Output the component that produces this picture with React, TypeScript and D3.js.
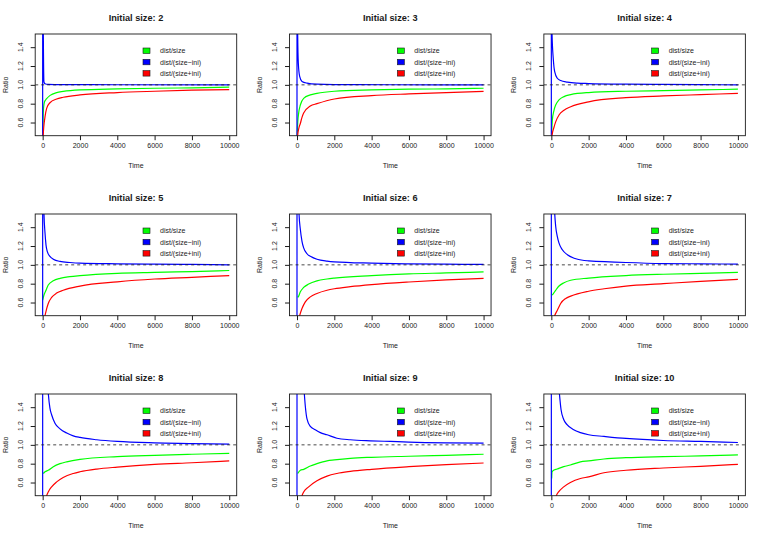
import { useEffect, useRef } from 'react';
import * as d3 from 'd3';

type Pt = [number, number];

// Initial sizes shown, one panel each
const initialSizes = [2, 3, 4, 5, 6, 7, 8, 9, 10];

const legendLabels = ['dist/size', 'dist/(size\u2212ini)', 'dist/(size+ini)'];
const seriesColors = ['#00ff00', '#0000ff', '#ff0000'];

const xTicks = [0, 2000, 4000, 6000, 8000, 10000];
const yTicks = [0.6, 0.8, 1.0, 1.2, 1.4];

// [time, ratio]
const green2: Pt[] = [[0, 0.3], [20, 0.6], [50, 0.76], [100, 0.82], [200, 0.85], [400, 0.888], [750, 0.918], [1100, 0.93], [2000, 0.946], [4000, 0.957], [6000, 0.964], [8000, 0.968], [10000, 0.975]];
const blue2: Pt[] = [[0, 0.3], [1, 3], [35, 1.55], [70, 1.03], [125, 1.012], [300, 1.005], [1000, 1.002], [4000, 1.001], [10000, 1.0]];
const red2: Pt[] = [[10, 0.3], [30, 0.46], [125, 0.66], [214, 0.75], [390, 0.81], [750, 0.85], [1100, 0.868], [2000, 0.893], [4000, 0.918], [6000, 0.932], [8000, 0.943], [10000, 0.95]];

const green3: Pt[] = [[0, 0.4], [40, 0.6], [89, 0.7], [179, 0.786], [357, 0.857], [714, 0.893], [1071, 0.91], [2000, 0.932], [4000, 0.946], [6000, 0.954], [8000, 0.957], [10000, 0.964]];
const blue3: Pt[] = [[0, 0.3], [1, 3], [36, 1.55], [71, 1.23], [143, 1.09], [268, 1.036], [536, 1.018], [1071, 1.007], [2000, 1.003], [5000, 1.001], [10000, 1.0]];
const red3: Pt[] = [[20, 0.4], [36, 0.46], [100, 0.54], [179, 0.59], [268, 0.655], [357, 0.7], [714, 0.775], [1071, 0.8], [2000, 0.85], [4000, 0.886], [6000, 0.904], [8000, 0.918], [10000, 0.93]];

const green4: Pt[] = [[0, 0.4], [54, 0.625], [143, 0.73], [233, 0.786], [412, 0.84], [680, 0.875], [1040, 0.896], [2000, 0.918], [4000, 0.932], [6000, 0.939], [8000, 0.946], [10000, 0.954]];
const blue4: Pt[] = [[0, 0.3], [1, 3], [36, 1.55], [107, 1.27], [180, 1.14], [322, 1.07], [500, 1.046], [860, 1.029], [1400, 1.018], [2000, 1.014], [4000, 1.007], [6000, 1.004], [8000, 1.002], [10000, 1.0]];
const red4: Pt[] = [[20, 0.4], [36, 0.46], [143, 0.55], [233, 0.607], [412, 0.68], [680, 0.73], [1040, 0.768], [2000, 0.82], [4000, 0.864], [6000, 0.882], [8000, 0.896], [10000, 0.91]];

const green5: Pt[] = [[0, 0.625], [70, 0.68], [180, 0.73], [300, 0.786], [570, 0.83], [930, 0.857], [1460, 0.875], [2000, 0.886], [4000, 0.91], [6000, 0.92], [8000, 0.929], [10000, 0.94]];
const blue5: Pt[] = [[0, 0.3], [1, 3], [70, 1.55], [125, 1.34], [180, 1.21], [250, 1.14], [390, 1.09], [570, 1.06], [930, 1.036], [1460, 1.025], [2000, 1.018], [4000, 1.011], [6000, 1.007], [8000, 1.004], [10000, 1.0]];
const red5: Pt[] = [[100, 0.44], [125, 0.46], [215, 0.536], [300, 0.59], [480, 0.654], [750, 0.7], [1100, 0.73], [2000, 0.775], [4000, 0.82], [6000, 0.85], [8000, 0.868], [10000, 0.886]];

const green6: Pt[] = [[36, 0.654], [89, 0.668], [180, 0.714], [357, 0.76], [625, 0.796], [1070, 0.83], [1610, 0.85], [2000, 0.86], [4000, 0.886], [6000, 0.904], [8000, 0.914], [10000, 0.925]];
const blue6: Pt[] = [[0, 0.3], [1, 3], [107, 1.55], [180, 1.375], [268, 1.25], [357, 1.18], [536, 1.118], [800, 1.082], [1070, 1.06], [1610, 1.04], [2000, 1.032], [4000, 1.018], [6000, 1.011], [8000, 1.007], [10000, 1.004]];
const red6: Pt[] = [[120, 0.44], [143, 0.46], [268, 0.536], [446, 0.607], [714, 0.66], [1070, 0.696], [1610, 0.73], [2000, 0.746], [2860, 0.768], [4000, 0.79], [6000, 0.818], [8000, 0.84], [10000, 0.857]];

const green7: Pt[] = [[36, 0.68], [90, 0.69], [233, 0.73], [412, 0.775], [680, 0.81], [1040, 0.836], [2000, 0.86], [4000, 0.886], [6000, 0.9], [8000, 0.91], [10000, 0.92]];
const blue7: Pt[] = [[0, 0.3], [1, 3], [180, 1.55], [233, 1.41], [322, 1.3], [412, 1.23], [590, 1.16], [860, 1.107], [1220, 1.07], [1760, 1.046], [2000, 1.043], [4000, 1.025], [6000, 1.014], [8000, 1.011], [10000, 1.007]];
const red7: Pt[] = [[150, 0.44], [180, 0.46], [322, 0.518], [500, 0.59], [770, 0.643], [1040, 0.668], [2000, 0.72], [2830, 0.746], [4000, 0.775], [6000, 0.8], [8000, 0.825], [10000, 0.846]];

const green8: Pt[] = [[36, 0.696], [125, 0.714], [300, 0.73], [570, 0.768], [930, 0.8], [1290, 0.82], [2000, 0.846], [4000, 0.875], [6000, 0.889], [8000, 0.9], [10000, 0.91]];
const blue8: Pt[] = [[0, 0.3], [1, 3], [300, 1.55], [390, 1.39], [480, 1.32], [660, 1.23], [930, 1.17], [1290, 1.125], [1640, 1.096], [2000, 1.079], [2900, 1.054], [4000, 1.036], [6000, 1.021], [8000, 1.014], [10000, 1.007]];
const red8: Pt[] = [[190, 0.44], [215, 0.46], [300, 0.5], [480, 0.554], [750, 0.607], [1100, 0.654], [1640, 0.696], [2000, 0.714], [2900, 0.743], [4000, 0.764], [6000, 0.793], [8000, 0.81], [10000, 0.829]];

const green9: Pt[] = [[36, 0.696], [179, 0.73], [357, 0.74], [714, 0.775], [1070, 0.8], [1610, 0.83], [2000, 0.84], [2860, 0.857], [4000, 0.868], [6000, 0.879], [8000, 0.889], [10000, 0.9]];
const blue9: Pt[] = [[0, 0.3], [1, 3], [390, 1.55], [446, 1.41], [536, 1.275], [714, 1.196], [980, 1.16], [1250, 1.13], [1610, 1.107], [2140, 1.07], [2860, 1.054], [3930, 1.043], [5000, 1.036], [6000, 1.029], [8000, 1.021], [10000, 1.018]];
const red9: Pt[] = [[240, 0.44], [270, 0.46], [357, 0.5], [625, 0.554], [1070, 0.618], [1610, 0.668], [2140, 0.696], [2860, 0.718], [4000, 0.74], [6000, 0.768], [8000, 0.79], [10000, 0.807]];

const green10: Pt[] = [[18, 0.643], [40, 0.714], [125, 0.73], [305, 0.743], [663, 0.768], [1020, 0.786], [1560, 0.82], [2000, 0.83], [2820, 0.85], [4000, 0.864], [6000, 0.875], [8000, 0.882], [10000, 0.893]];
const blue10: Pt[] = [[0, 0.3], [1, 3], [430, 1.55], [520, 1.375], [663, 1.27], [842, 1.214], [1200, 1.16], [1560, 1.13], [2000, 1.107], [2820, 1.09], [4000, 1.068], [6000, 1.046], [8000, 1.036], [10000, 1.025]];
const red10: Pt[] = [[240, 0.44], [270, 0.46], [390, 0.5], [663, 0.554], [1020, 0.6], [1560, 0.643], [2000, 0.66], [2820, 0.704], [4000, 0.73], [6000, 0.754], [8000, 0.772], [10000, 0.793]];

const panelSeries: Pt[][][] = [
  [green2, blue2, red2],
  [green3, blue3, red3],
  [green4, blue4, red4],
  [green5, blue5, red5],
  [green6, blue6, red6],
  [green7, blue7, red7],
  [green8, blue8, red8],
  [green9, blue9, red9],
  [green10, blue10, red10],
];

const App = () => {
  const svgRef = useRef<SVGSVGElement>(null);
  const width = 763;
  const height = 540;

  useEffect(() => {
    if (!svgRef.current) return;
    const svg = d3.select(svgRef.current);
    svg.selectAll('*').remove();

    const panelW = width / 3;
    const panelH = 180;
    const box = { left: 35.2, right: 236.7, top: 34, bottom: 135.7 };
    const font = "'Liberation Sans', Arial, Helvetica, sans-serif";
    const ink = '#1a1a1a';

    const x = d3.scaleLinear().domain([-400, 10400]).range([box.left, box.right]);
    const y = d3.scaleLinear().domain([0.46, 1.54]).range([box.bottom, box.top]);

    const line = d3.line<Pt>()
      .x(d => x(d[0]))
      .y(d => y(d[1]))
      .curve(d3.curveMonotoneX);

    initialSizes.forEach((ini, i) => {
      const col = i % 3;
      const row = Math.floor(i / 3);
      const g = svg.append('g')
        .attr('transform', `translate(${col * panelW},${row * panelH})`);

      const clipId = `clip-${i}`;
      g.append('clipPath')
        .attr('id', clipId)
        .append('rect')
        .attr('x', box.left)
        .attr('y', box.top)
        .attr('width', box.right - box.left)
        .attr('height', box.bottom - box.top);

      // Title
      g.append('text')
        .attr('x', (box.left + box.right) / 2)
        .attr('y', 20.5)
        .attr('text-anchor', 'middle')
        .attr('font-family', font)
        .attr('font-size', '9.2px')
        .attr('font-weight', 'bold')
        .attr('fill', ink)
        .text(`Initial size: ${ini}`);

      // Series
      const lines = g.append('g').attr('clip-path', `url(#${clipId})`);
      panelSeries[i].forEach((pts, s) => {
        lines.append('path')
          .attr('d', line(pts))
          .attr('fill', 'none')
          .attr('stroke', seriesColors[s])
          .attr('stroke-width', 1.2);
      });

      // Reference line at 1
      lines.append('line')
        .attr('x1', box.left)
        .attr('x2', box.right)
        .attr('y1', y(1))
        .attr('y2', y(1))
        .attr('stroke', ink)
        .attr('stroke-width', 0.8)
        .attr('stroke-dasharray', '3,3');

      // X axis
      const xAxis = g.append('g')
        .attr('transform', `translate(0,${box.bottom})`)
        .call(d3.axisBottom(x).tickValues(xTicks).tickSize(4.5).tickPadding(3).tickFormat(d3.format('d')));
      xAxis.select('.domain').remove();
      xAxis.selectAll('line').attr('stroke', ink);
      xAxis.selectAll('text')
        .attr('font-family', font)
        .attr('font-size', '7px')
        .attr('fill', ink);

      // Y axis
      const yAxis = g.append('g')
        .attr('transform', `translate(${box.left},0)`)
        .call(d3.axisLeft(y).tickValues(yTicks).tickSize(4.5).tickFormat(d3.format('.1f')));
      yAxis.select('.domain').remove();
      yAxis.selectAll('line').attr('stroke', ink);
      yAxis.selectAll('text').remove();
      yTicks.forEach(t => {
        g.append('text')
          .attr('transform', `translate(22.5,${y(t)}) rotate(-90)`)
          .attr('text-anchor', 'middle')
          .attr('font-family', font)
          .attr('font-size', '7px')
          .attr('fill', ink)
          .text(d3.format('.1f')(t));
      });

      // Box
      g.append('rect')
        .attr('x', box.left)
        .attr('y', box.top)
        .attr('width', box.right - box.left)
        .attr('height', box.bottom - box.top)
        .attr('fill', 'none')
        .attr('stroke', ink)
        .attr('stroke-width', 0.9);

      // Axis labels
      g.append('text')
        .attr('x', (box.left + box.right) / 2)
        .attr('y', 168.2)
        .attr('text-anchor', 'middle')
        .attr('font-family', font)
        .attr('font-size', '7px')
        .attr('fill', ink)
        .text('Time');

      g.append('text')
        .attr('transform', `translate(7.5,${(box.top + box.bottom) / 2}) rotate(-90)`)
        .attr('text-anchor', 'middle')
        .attr('font-family', font)
        .attr('font-size', '7px')
        .attr('fill', ink)
        .text('Ratio');

      // Legend
      const legend = g.append('g').attr('transform', 'translate(143,48)');
      legendLabels.forEach((label, s) => {
        const ly = s * 11.3;
        legend.append('rect')
          .attr('x', 0)
          .attr('y', ly)
          .attr('width', 7)
          .attr('height', 5.5)
          .attr('fill', seriesColors[s])
          .attr('stroke', ink)
          .attr('stroke-width', 0.6);
        legend.append('text')
          .attr('x', 17)
          .attr('y', ly + 5.3)
          .attr('font-family', font)
          .attr('font-size', '7px')
          .attr('fill', ink)
          .text(label);
      });
    });
  }, []);

  return (
    <svg
      ref={svgRef}
      width={width}
      height={height}
      style={{ position: 'absolute', left: 0, top: 0, background: '#fff' }}
    />
  );
};

export default App;
